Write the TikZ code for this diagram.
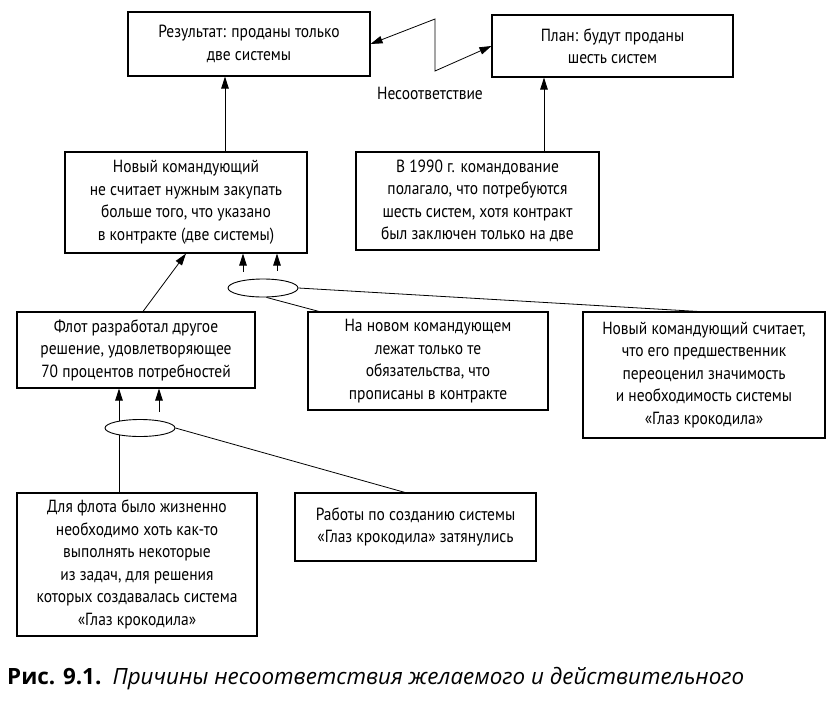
\documentclass[tikz,border=0pt]{standalone}
\usepackage{fontspec}
\setmainfont{PT Sans}
\newfontfamily\boxfont[FakeStretch=0.88]{PT Sans}
\newfontfamily\capfont{Open Sans}
\usetikzlibrary{arrows.meta,shapes.geometric}
\begin{document}
\begin{tikzpicture}[x=1pt,y=-1pt,
  box/.style={draw, line width=1.1pt, align=center, inner sep=0pt, font=\boxfont\fontsize{17.6}{22.5}\selectfont},
  conn/.style={line width=0.8pt},
  arr/.style={line width=0.8pt, -{Triangle[length=12pt,width=7.5pt]}},
  oval/.style={draw, ellipse, line width=0.9pt, fill=white, inner sep=0pt}]
\useasboundingbox (0,0) rectangle (839,721);
\fill[white] (0,0) rectangle (839,721);

% boxes
\node[box,minimum width=242,minimum height=64] (A) at (249,44) {Результат: проданы только\\две системы};
\node[box,minimum width=241,minimum height=62] (B) at (612.5,46) {План: будут проданы\\шесть систем};
\node[box,minimum width=242,minimum height=101] (C) at (186,202.5) {Новый командующий\\не считает нужным закупать\\больше того, что указано\\в контракте (две системы)};
\node[box,minimum width=243,minimum height=98] (D) at (477.5,201) {В 1990 г. командование\\полагало, что потребуются\\шесть систем, хотя контракт\\был заключен только на две};
\node[box,minimum width=238,minimum height=76] (E) at (136,350) {Флот разработал другое\\решение, удовлетворяющее\\70 процентов потребностей};
\node[box,minimum width=240,minimum height=98] (F) at (428,361) {На новом командующем\\лежат только те\\обязательства, что\\прописаны в контракте};
\node[box,minimum width=242,minimum height=126] (G) at (704,375) {Новый командующий считает,\\что его предшественник\\переоценил значимость\\и необходимость системы\\«Глаз крокодила»};
\node[box,minimum width=240,minimum height=143] (H) at (137,564.5) {Для флота было жизненно\\необходимо хоть как-то\\выполнять некоторые\\из задач, для решения\\которых создавалась система\\«Глаз крокодила»};
\node[box,minimum width=241,minimum height=68] (I) at (415.5,527) {Работы по созданию системы\\«Глаз крокодила» затянулись};

% label
\node[font=\boxfont\fontsize{17.6}{18}\selectfont] (lbl) at (430,93) {Несоответствие};

% zigzag
\coordinate (zt) at (435,19);
\coordinate (zb) at (435,71);
\draw[conn, {Triangle[length=12pt,width=7.5pt]}-{Triangle[length=12pt,width=7.5pt]}] (A.east) -- (zt) -- (zb) -- (B.west);

% vertical arrows to top row
\coordinate (xa) at (225,0);
\coordinate (xb) at (544,0);
\draw[arr] (C.north -| xa) -- (A.south -| xa);
\draw[arr] (D.north -| xb) -- (B.south -| xb);

% ellipse 1
\node[oval, minimum width=70, minimum height=18] (e1) at (263,288) {};
\coordinate (x1) at (243,0);
\coordinate (x2) at (277,0);
\draw[arr] (e1.north -| x1) ++(0,-6.8) -- (C.south -| x1);
\draw[arr] (e1.north -| x2) ++(0,-7.8) -- (C.south -| x2);
\draw[conn] (e1.east) -- (G.north -| 698,0);
\draw[conn] (e1.-70) -- (F.north -| 319,0);

% diagonal
\coordinate (xe) at (143,0);
\coordinate (xc) at (186,0);
\draw[arr] (E.north -| xe) -- (C.south -| xc);

% ellipse 2
\coordinate (x3) at (119,0);
\coordinate (x4) at (159,0);
\draw[arr] (H.north -| x3) -- (E.south -| x3);
\node[oval, minimum width=70, minimum height=17] (e2) at (140,428) {};
\draw[arr] (e2.north -| x4) ++(0,-7.5) -- (E.south -| x4);
\draw[conn] (e2.east) -- (I.north -| 405,0);

% caption
\node[anchor=base west, inner sep=0pt, font=\capfont\fontsize{22.4}{26}\selectfont] (cap) at (7,684) {\textbf{Рис. 9.1.}\hspace{0.5em}\textit{Причины несоответствия желаемого и действительного}};
\end{tikzpicture}
\end{document}
